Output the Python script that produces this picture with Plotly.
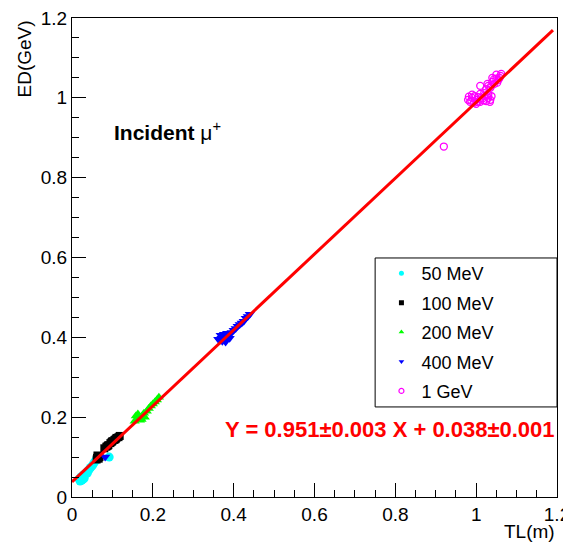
import plotly.graph_objects as go

# ---- data ----
x_50 = [0.018, 0.022, 0.025, 0.028, 0.030, 0.033, 0.036, 0.040, 0.043, 0.046, 0.050, 0.053, 0.056, 0.060, 0.062, 0.024, 0.030, 0.038, 0.092, 0.020, 0.027]
y_50 = [0.045, 0.050, 0.048, 0.055, 0.052, 0.058, 0.062, 0.066, 0.070, 0.074, 0.078, 0.083, 0.088, 0.092, 0.097, 0.042, 0.047, 0.060, 0.100, 0.040, 0.044]

x_100 = [0.062, 0.065, 0.066, 0.063, 0.068, 0.061, 0.080, 0.085, 0.090, 0.095, 0.100, 0.105, 0.110, 0.115, 0.118, 0.088, 0.098, 0.108]
y_100 = [0.098, 0.102, 0.096, 0.104, 0.100, 0.094, 0.122, 0.126, 0.130, 0.135, 0.140, 0.143, 0.148, 0.150, 0.153, 0.128, 0.138, 0.145]

x_200 = [0.155, 0.160, 0.165, 0.170, 0.175, 0.180, 0.158, 0.168, 0.178, 0.185, 0.190, 0.195, 0.200, 0.205, 0.210, 0.215, 0.163, 0.172]
y_200 = [0.190, 0.195, 0.200, 0.198, 0.205, 0.200, 0.203, 0.192, 0.210, 0.215, 0.222, 0.228, 0.233, 0.238, 0.243, 0.250, 0.208, 0.194]

x_400 = [0.082, 0.362, 0.366, 0.370, 0.374, 0.378, 0.382, 0.386, 0.390, 0.368, 0.376, 0.384, 0.395, 0.400, 0.405, 0.410, 0.415, 0.420, 0.425, 0.430, 0.435, 0.440, 0.372, 0.380]
y_400 = [0.100, 0.395, 0.392, 0.398, 0.402, 0.396, 0.400, 0.404, 0.398, 0.405, 0.408, 0.410, 0.412, 0.418, 0.422, 0.428, 0.432, 0.436, 0.440, 0.448, 0.452, 0.458, 0.390, 0.388]

x_1g = [0.980, 0.985, 0.990, 0.995, 1.000, 1.005, 1.010, 1.015, 1.020, 1.025, 1.030, 1.035, 0.990, 1.000, 1.010, 1.020, 1.030,
        0.982, 0.988, 0.996, 1.004, 1.012, 1.018, 1.026, 1.034, 1.038,
        1.025, 1.030, 1.035, 1.040, 1.045, 1.050, 1.055, 1.060, 1.040, 1.050, 1.028, 1.036, 1.044, 1.052, 1.058, 1.062,
        1.010, 0.920]
y_1g = [0.995, 0.990, 1.000, 0.988, 0.995, 1.002, 0.990, 0.998, 1.005, 0.992, 1.000, 0.995, 1.008, 0.985, 1.010, 1.012, 1.008,
        1.003, 0.993, 1.004, 0.990, 1.000, 0.994, 1.006, 0.990, 1.004,
        1.022, 1.030, 1.025, 1.040, 1.035, 1.048, 1.045, 1.055, 1.050, 1.058, 1.035, 1.028, 1.046, 1.038, 1.050, 1.060,
        1.030, 0.878]

series_names = ["50 MeV", "100 MeV", "200 MeV", "400 MeV", "1 GeV"]

fit_slope = 0.951
fit_intercept = 0.038
fit_x = [0.0, 1.19]
fit_y = [fit_slope * v + fit_intercept for v in fit_x]

FONT = "Liberation Sans, Arial, Helvetica, sans-serif"

styles = [
    dict(symbol="circle", color="#00FFFF", size=9, line=dict(width=0)),
    dict(symbol="square", color="#000000", size=8, line=dict(width=0)),
    dict(symbol="triangle-up", color="#00FF00", size=9, line=dict(width=0)),
    dict(symbol="triangle-down", color="#0000FF", size=9, line=dict(width=0)),
    dict(symbol="circle-open", color="#FF00FF", size=7, line=dict(width=1.3, color="#FF00FF")),
]
legend_styles = [
    dict(symbol="circle", color="#00FFFF", size=5, line=dict(width=0)),
    dict(symbol="square", color="#000000", size=5, line=dict(width=0)),
    dict(symbol="triangle-up", color="#00FF00", size=5, line=dict(width=0)),
    dict(symbol="triangle-down", color="#0000FF", size=5, line=dict(width=0)),
    dict(symbol="circle-open", color="#FF00FF", size=5, line=dict(width=1.2, color="#FF00FF")),
]

data_xy = [(x_50, y_50), (x_100, y_100), (x_200, y_200), (x_400, y_400), (x_1g, y_1g)]

fig = go.Figure()
for (xs, ys), st in zip(data_xy, styles):
    fig.add_trace(go.Scatter(x=xs, y=ys, mode="markers", marker=st, showlegend=False, hoverinfo="x+y"))

fig.add_trace(go.Scatter(x=fit_x, y=fit_y, mode="lines", line=dict(color="#FF0000", width=3), showlegend=False))

for i, (name, st) in enumerate(zip(series_names, legend_styles)):
    fig.add_trace(go.Scatter(x=[None], y=[None], mode="markers", marker=st, name=name,
                             legendgroup=f"g{i}", showlegend=True))

axis_common = dict(
    showline=True, linecolor="black", linewidth=1, mirror=True,
    ticks="inside", ticklen=14, tickwidth=1, tickcolor="black",
    showgrid=False, zeroline=False, automargin=False,
    ticklabeloverflow="allow",
    dtick=0.2, tick0=0,
    minor=dict(ticks="inside", ticklen=7, tickwidth=1, tickcolor="black", dtick=0.05, showgrid=False),
    tickfont=dict(family=FONT, size=19, color="black"),
    range=[0, 1.2],
)

# page body has an 8px margin, so the figure is offset by (8, 8)
fig.update_layout(
    width=563, height=536,
    margin=dict(l=64, r=14, t=10, b=47, autoexpand=False),
    paper_bgcolor="white", plot_bgcolor="white",
    font=dict(family=FONT, color="black"),
    xaxis=dict(**axis_common),
    yaxis=dict(**axis_common),
    legend=dict(
        x=0.638, y=0.505, xanchor="left", yanchor="top",
        bgcolor="rgba(0,0,0,0)", borderwidth=0,
        font=dict(family=FONT, size=18, color="black"),
        tracegroupgap=3, traceorder="grouped",
    ),
    shapes=[dict(type="rect", xref="paper", yref="paper",
                 x0=0.625, x1=1.0, y0=0.188, y1=0.499,
                 line=dict(color="black", width=1), fillcolor="rgba(0,0,0,0)")],
    annotations=[
        dict(text="TL(m)", xref="paper", yref="paper", x=1.0, y=-0.045,
             xanchor="right", yanchor="top", showarrow=False,
             font=dict(family=FONT, size=19, color="black")),
        dict(text="ED(GeV)", xref="paper", yref="paper", x=-0.097, y=1.0,
             xanchor="center", yanchor="top", textangle=-90, showarrow=False,
             font=dict(family=FONT, size=19, color="black")),
        dict(text="<b>Incident</b> μ<sup>+</sup>", x=0.100, y=0.917,
             xanchor="left", yanchor="middle", showarrow=False,
             font=dict(family=FONT, size=21, color="black")),
        dict(text="<b>Y = 0.951±0.003 X + 0.038±0.001</b>", x=0.373, y=0.168,
             xanchor="left", yanchor="middle", showarrow=False,
             font=dict(family=FONT, size=22, color="#FF0000")),
    ],
)

fig.write_html("out.html")
